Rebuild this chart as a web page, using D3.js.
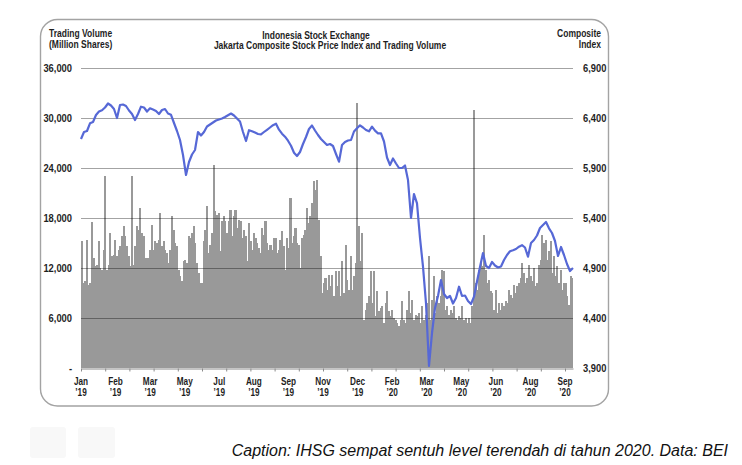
<!DOCTYPE html>
<html>
<head>
<meta charset="utf-8">
<script src="https://cdn.jsdelivr.net/npm/d3@7"></script>
<style>
body { margin: 0; background: #fff; }
svg text { font-family: "Liberation Sans", Arial, sans-serif; font-weight: bold; fill: #1e1e1e; }
</style>
</head>
<body>
<svg id="chart" width="742" height="465"></svg>
<script>
// daily trading volume (million shares), Jan 2019 .. mid Sep 2020
const volume = [
  15200,10200,10400,15400,10000,10200,17500,13200,12200,12400,
  15200,12000,11800,14200,23100,11800,12400,16200,13400,13600,
  15400,13400,14200,14600,15800,17000,15800,14600,13400,12200,
  23100,12400,14600,17000,16600,19200,16200,15800,13200,13200,
  13200,14200,17200,14200,15200,15000,15400,18600,14600,15200,
  14200,13800,12600,14200,18200,16600,15000,14600,11800,11000,
  10400,12800,13000,12600,15800,15600,16200,17000,15000,12600,
  11400,10200,
  10200,15200,16600,19400,13800,14800,16200,24400,18800,18400,
  18600,14000,17600,18200,17600,16200,17600,19000,15800,18200,
  19000,16800,17800,17600,15600,16600,15800,12800,17400,15200,
  14200,16200,15600,15000,14400,13800,16800,16000,17600,15000,
  14200,14800,14200,15600,15600,13800,14200,15400,16400,14600,
  11800,15600,14400,20400,15000,15800,16800,15000,14800,12000,
  15600,16000,16600,19200,17400,18200,19800,22400,21400,22600,
  17800,13400,9000,
  10200,10800,9400,11200,9800,11200,8600,11600,9800,11600,
  8600,12800,9000,14800,10600,9400,13400,9400,11000,12600,
  31800,17000,12800,16200,5800,7000,7800,8600,11600,7800,
  11600,6200,9200,6800,7200,7400,5400,7800,9200,6800,
  6200,7000,6000,5800,5400,5000,5800,8000,5800,5400,
  7000,9200,6600,8200,5800,6400,6200,6600,5400,7400,
  5800,6400,7800,13400,5800,8200,11000,6600,8600,7800,
  8600,11800,
  11600,7000,7400,6400,7000,6600,7400,6000,5800,6200,
  6000,7400,5800,6000,5400,6000,5400,7400,31000,10200,
  9400,11800,12600,12200,16000,11800,10200,10600,9200,9000,
  7000,9400,6600,7800,7000,7800,7400,8000,7800,9400,
  8800,8400,10000,9000,9800,10200,10800,12600,11400,10200,
  10800,12400,11000,10400,12000,9800,10200,12400,13000,16000,
  15000,15400,13000,14000,15200,11400,13400,11000,12200,10200,
  11800,9400,10200,10200,8600,7600,11000,10800
];

// Jakarta Composite Index, same period, sampled evenly along the chart
const composite = [
  6190,6260,6270,6347,6360,6430,6465,6478,6505,6545,
  6525,6490,6400,6530,6535,6520,6475,6440,6380,6440,
  6513,6505,6465,6497,6485,6470,6440,6480,6490,6445,
  6432,6350,6270,6180,6030,5830,5960,6035,6080,6260,
  6225,6260,6315,6335,6355,6375,6385,6395,6410,6428,
  6445,6425,6395,6365,6260,6170,6278,6268,6255,6240,
  6237,6260,6282,6305,6328,6343,6283,6243,6213,6173,
  6123,6053,6020,6060,6140,6210,6290,6325,6275,6230,
  6190,6160,6130,6140,6120,6040,5963,6130,6160,6175,
  6180,6265,6297,6327,6305,6280,6267,6313,6273,6247,
  6247,6165,6005,5930,5995,5945,5900,5900,5925,5780,
  5400,5640,5547,5200,4913,4547,3920,4250,4500,4620,
  4780,4640,4600,4620,4545,4600,4713,4620,4625,4570,
  4540,4613,4765,4910,5050,4920,4900,4960,4925,4905,
  4915,4980,5030,5067,5077,5090,5113,5128,5105,5013,
  5150,5180,5225,5300,5330,5360,5297,5250,5170,5020,
  5110,5030,4940,4870,4900
];

const volumeTicks = [0, 6000, 12000, 18000, 24000, 30000, 36000];
const indexTicks = [3900, 4400, 4900, 5400, 5900, 6400, 6900];
const labelMonths = ["Jan","Feb","Mar","May","Jul","Aug","Sep","Nov","Dec","Feb","Mar","May","Jun","Aug","Sep"];
const labelYears = ["\u201919","\u201919","\u201919","\u201919","\u201919","\u201919","\u201919","\u201919","\u201919","\u201920","\u201920","\u201920","\u201920","\u201920","\u201920"];
const monthCount = 20;      // Jan '19 .. Sep '20 tick marks
const monthsShown = 20.33;  // data runs to mid Sep '20

const svg = d3.select("#chart");
const plot = {left: 81, right: 573, top: 68, bottom: 368};

// squeeze a bold sans into the condensed look of the original
const narrow = function (sel, f) {
  sel.each(function () {
    const w = this.getComputedTextLength();
    d3.select(this).attr("textLength", w * f).attr("lengthAdjust", "spacingAndGlyphs");
  });
};

// faint marks in the bottom-left corner of the picture
svg.append("rect").attr("x", 30).attr("y", 427).attr("width", 36).attr("height", 31).attr("rx", 3).style("fill", "#f8f8f8");
svg.append("rect").attr("x", 78).attr("y", 427).attr("width", 37).attr("height", 31).attr("rx", 3).style("fill", "#f8f8f8");

// rounded frame
svg.append("rect")
  .attr("x", 40.5).attr("y", 19.5)
  .attr("width", 568).attr("height", 386.5)
  .attr("rx", 17)
  .style("fill", "none")
  .style("stroke", "#a3a3a3")
  .style("stroke-width", 1.4);

const x = d3.scaleLinear().domain([0, monthsShown]).range([plot.left, plot.right]);
const xBar = d3.scaleBand().domain(d3.range(volume.length)).range([plot.left, plot.right]);
const xLine = d3.scaleLinear().domain([0, composite.length - 1]).range([plot.left, plot.right]);
const yVol = d3.scaleLinear().domain([0, 36000]).range([plot.bottom, plot.top]);
const yIdx = d3.scaleLinear().domain([3900, 6900]).range([plot.bottom, plot.top]);

// volume bars
svg.append("g")
  .attr("shape-rendering", "crispEdges")
  .selectAll("rect")
  .data(volume)
  .enter().append("rect")
    .attr("x", (d, i) => xBar(i))
    .attr("width", xBar.bandwidth() + 0.4)
    .attr("y", d => yVol(d))
    .attr("height", d => yVol(0) - yVol(d))
    .style("fill", "#999999");

// gridlines sit over the bars
svg.append("g")
  .selectAll("line")
  .data(volumeTicks.slice(1))
  .enter().append("line")
    .attr("x1", plot.left)
    .attr("x2", plot.right)
    .attr("y1", d => Math.round(yVol(d)) + 0.5)
    .attr("y2", d => Math.round(yVol(d)) + 0.5)
    .style("stroke", "rgba(0,0,0,0.36)")
    .style("stroke-width", 1);

// bottom axis with monthly ticks
const xAxis = d3.axisBottom(x)
  .tickValues(d3.range(0, monthCount + 1))
  .tickSize(3)
  .tickSizeOuter(0)
  .tickFormat("");
const axisG = svg.append("g")
  .attr("transform", `translate(0,${plot.bottom + 0.5})`)
  .call(xAxis);
axisG.selectAll("path, line").style("stroke", "#8a8a8a");

// composite index line
const line = d3.line()
  .x((d, i) => xLine(i))
  .y(d => yIdx(d));
svg.append("path")
  .datum(composite)
  .attr("d", line)
  .style("fill", "none")
  .style("stroke", "#5668d6")
  .style("stroke-width", 2.2)
  .style("stroke-linejoin", "round");

// left and right tick labels
const fmt = d3.format(",");
svg.selectAll(".volLabel")
  .data(volumeTicks)
  .enter().append("text")
    .attr("class", "volLabel")
    .attr("x", 72)
    .attr("y", d => yVol(d))
    .attr("dy", "0.36em")
    .attr("text-anchor", "end")
    .style("font-size", "11px")
    .text(d => d === 0 ? "-" : fmt(d))
    .call(narrow, 0.85);

svg.selectAll(".idxLabel")
  .data(indexTicks)
  .enter().append("text")
    .attr("class", "idxLabel")
    .attr("x", 583)
    .attr("y", d => yIdx(d))
    .attr("dy", "0.36em")
    .attr("text-anchor", "start")
    .style("font-size", "11px")
    .text(d => fmt(d))
    .call(narrow, 0.85);

// month / year labels, spread evenly under the axis
const labelStep = monthCount / (labelMonths.length - 1);
svg.selectAll(".monthLabel")
  .data(labelMonths)
  .enter().append("text")
    .attr("class", "monthLabel")
    .attr("x", (d, i) => x(i * labelStep))
    .attr("y", 385)
    .attr("text-anchor", "middle")
    .style("font-size", "10px")
    .text(d => d)
    .call(narrow, 0.82);
svg.selectAll(".yearLabel")
  .data(labelYears)
  .enter().append("text")
    .attr("class", "yearLabel")
    .attr("x", (d, i) => x(i * labelStep))
    .attr("y", 396)
    .attr("text-anchor", "middle")
    .style("font-size", "10px")
    .text(d => d)
    .call(narrow, 0.82);

// headers
const headers = [
  {t: "Trading Volume", x: 49, y: 37, a: "start"},
  {t: "(Million Shares)", x: 49, y: 47.5, a: "start"},
  {t: "Composite", x: 601, y: 37, a: "end"},
  {t: "Index", x: 601, y: 48, a: "end"},
  {t: "Indonesia Stock Exchange", x: 316, y: 38.5, a: "middle"},
  {t: "Jakarta Composite Stock Price Index and Trading Volume", x: 330, y: 49, a: "middle"}
];
svg.selectAll(".header")
  .data(headers)
  .enter().append("text")
    .attr("class", "header")
    .attr("x", d => d.x)
    .attr("y", d => d.y)
    .attr("text-anchor", d => d.a)
    .style("font-size", "10px")
    .text(d => d.t)
    .call(narrow, 0.85);

// caption below the frame
svg.append("text")
  .attr("x", 728)
  .attr("y", 456)
  .attr("text-anchor", "end")
  .style("font-weight", "normal")
  .style("font-style", "italic")
  .style("font-size", "16px")
  .style("fill", "#111")
  .text("Caption: IHSG sempat sentuh level terendah di tahun 2020. Data: BEI");
</script>
</body>
</html>
